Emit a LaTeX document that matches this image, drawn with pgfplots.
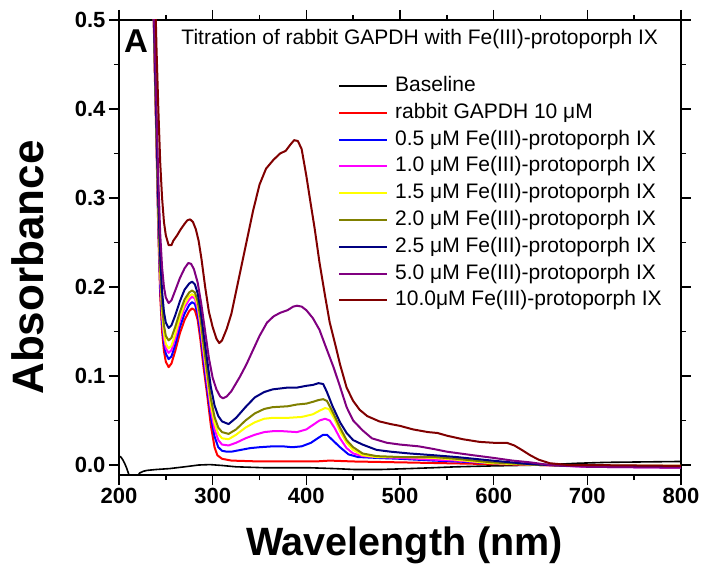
\documentclass[border=0pt]{standalone}
\usepackage{fontspec}
\setmainfont{Liberation Sans}
\usepackage{pgfplots}
\pgfplotsset{compat=1.18}
\definecolor{cBlue}{RGB}{0,0,255}
\definecolor{cRed}{RGB}{255,0,0}
\definecolor{cOlive}{RGB}{128,128,0}
\definecolor{cNavy}{RGB}{0,0,128}
\definecolor{cPurple}{RGB}{128,0,128}
\definecolor{cMaroon}{RGB}{128,0,0}
\definecolor{cYellow}{RGB}{255,255,0}
\definecolor{cMagenta}{RGB}{255,0,255}
\begin{document}
\begin{tikzpicture}
\begin{axis}[
  scale only axis, width=562bp, height=455bp,
  xmin=200, xmax=800, ymin=-0.0112, ymax=0.5,
  xtick={200,300,400,500,600,700,800},
  minor xtick={250,350,450,550,650,750},
  ytick={0,0.1,0.2,0.3,0.4,0.5},
  minor ytick={0.05,0.15,0.25,0.35,0.45},
  tick align=outside,
  major tick length=10bp, minor tick length=5bp,
  every tick/.style={line width=1.5bp, black},
  axis line style={line width=1.3bp},
  /pgf/number format/assume math mode=true,
  ticklabel style={font=\fontsize{22bp}{22bp}\selectfont\bfseries},
  yticklabel style={/pgf/number format/.cd, fixed, fixed zerofill, precision=1},
  xticklabel style={/pgf/number format/.cd, fixed, precision=0, 1000 sep={}},
  xlabel={Wavelength (nm)},
  ylabel={Absorbance},
  xlabel style={font=\fontsize{39.5bp}{39.5bp}\selectfont\bfseries, at={(axis description cs:0.508,-0.154)}, anchor=center},
  ylabel style={font=\fontsize{44bp}{44bp}\selectfont\bfseries, at={(axis description cs:-0.162,0.456)}, anchor=center},
  legend cell align=left,
  legend style={draw=none, fill=none, anchor=north west, at={(axis cs:430.6,0.439)},
    font=\fontsize{21bp}{21bp}\selectfont,
    nodes={inner sep=0pt, text height=15bp, text depth=4bp},
    row sep=7.8bp, column sep=7bp},
  legend image code/.code={\draw[#1] (0bp,0bp) -- (48bp,0bp);},
  every axis plot/.append style={line width=2bp, line join=round},
]
\addlegendimage{black, line width=2bp}
\addlegendentry{Baseline}
\addlegendimage{cRed, line width=2bp}
\addlegendentry{rabbit GAPDH 10 μM}
\addlegendimage{cBlue, line width=2bp}
\addlegendentry{0.5 μM Fe(III)-protoporph IX}
\addlegendimage{cMagenta, line width=2bp}
\addlegendentry{1.0 μM Fe(III)-protoporph IX}
\addlegendimage{cYellow, line width=2bp}
\addlegendentry{1.5 μM Fe(III)-protoporph IX}
\addlegendimage{cOlive, line width=2bp}
\addlegendentry{2.0 μM Fe(III)-protoporph IX}
\addlegendimage{cNavy, line width=2bp}
\addlegendentry{2.5 μM Fe(III)-protoporph IX}
\addlegendimage{cPurple, line width=2bp}
\addlegendentry{5.0 μM Fe(III)-protoporph IX}
\addlegendimage{cMaroon, line width=2bp}
\addlegendentry{10.0μM Fe(III)-protoporph IX}
% Baseline
\addplot[black, line width=1.6bp, forget plot] coordinates {
(200,0.010) (202,0.009) (204,0.006) (206,0.002) (208,-0.003) (210,-0.009) (212,-0.016)
(218,-0.016) (222,-0.009) (226,-0.007) (230,-0.006) (240,-0.005) (254,-0.004) (270,-0.002)
(285,0.000) (297,0.0005) (310,-0.0005) (325,-0.002) (354,-0.003) (402,-0.003) (430,-0.004)
(451,-0.005) (480,-0.005) (510,-0.004) (536,-0.003) (560,-0.002) (598,-0.001) (650,0.000)
(690,0.002) (720,0.003) (800,0.004)};
% rabbit GAPDH 10 uM
\addplot[cRed, forget plot] coordinates {
(236,0.56) (238,0.45) (240,0.36) (242,0.26) (244,0.19) (246,0.15) (248,0.128) (250,0.116)
(253,0.110) (256,0.114) (260,0.128) (265,0.148) (270,0.163) (275,0.173) (278,0.176) (281,0.174)
(284,0.163) (287,0.140) (290,0.112) (294,0.080) (298,0.045) (302,0.020) (305,0.011) (310,0.007)
(320,0.005) (350,0.004) (380,0.004) (410,0.004) (425,0.005) (450,0.004) (500,0.003) (550,0.002)
(600,0.001) (650,0.000) (700,-0.001) (750,-0.001) (800,-0.001)};
% 0.5
\addplot[cBlue, forget plot] coordinates {
(236,0.56) (238,0.46) (240,0.37) (242,0.27) (244,0.2) (246,0.16) (248,0.137) (250,0.125)
(253,0.119) (256,0.122) (260,0.135) (265,0.155) (270,0.17) (275,0.18) (278,0.183) (281,0.181)
(284,0.17) (287,0.148) (290,0.12) (294,0.087) (298,0.055) (302,0.032) (306,0.02) (310,0.016)
(315,0.015) (320,0.015) (330,0.017) (340,0.019) (350,0.020) (364,0.021) (375,0.021) (385,0.020)
(395,0.021) (405,0.025) (412,0.030) (418,0.034) (422,0.034) (428,0.028) (436,0.020) (445,0.012)
(455,0.009) (475,0.008) (500,0.007) (536,0.005) (560,0.004) (600,0.002) (640,0.001) (680,-0.001)
(700,-0.001) (800,-0.002)};
% 1.0
\addplot[cMagenta, forget plot] coordinates {
(236,0.56) (238,0.46) (240,0.37) (242,0.28) (244,0.21) (246,0.167) (248,0.143) (250,0.131)
(253,0.126) (256,0.129) (260,0.142) (265,0.162) (270,0.177) (275,0.186) (278,0.189) (281,0.187)
(284,0.176) (287,0.155) (290,0.127) (294,0.094) (298,0.062) (302,0.040) (306,0.028) (310,0.023)
(317,0.022) (325,0.025) (335,0.030) (345,0.034) (355,0.037) (364,0.038) (375,0.038) (390,0.037)
(400,0.040) (407,0.045) (414,0.050) (420,0.052) (425,0.050) (430,0.042) (436,0.030) (443,0.019)
(450,0.013) (460,0.010) (475,0.009) (500,0.008) (536,0.006) (560,0.005) (600,0.002) (650,0.000)
(700,-0.002) (800,-0.003)};
% 1.5
\addplot[cYellow, forget plot] coordinates {
(236,0.56) (238,0.46) (240,0.37) (242,0.28) (244,0.215) (246,0.172) (248,0.148) (250,0.136)
(253,0.131) (256,0.134) (260,0.147) (265,0.166) (270,0.181) (275,0.19) (278,0.192) (281,0.19)
(284,0.18) (287,0.16) (290,0.133) (294,0.100) (298,0.068) (302,0.047) (306,0.035) (310,0.030)
(317,0.029) (325,0.034) (335,0.042) (345,0.048) (355,0.052) (364,0.053) (380,0.053) (395,0.054)
(407,0.057) (414,0.061) (420,0.064) (424,0.063) (430,0.052) (436,0.038) (443,0.025) (450,0.017)
(460,0.011) (475,0.009) (500,0.009) (536,0.008) (560,0.006) (598,0.002) (650,0.000) (700,-0.001)
(800,-0.001)};
% 2.0
\addplot[cOlive, forget plot] coordinates {
(236,0.56) (238,0.46) (240,0.37) (242,0.285) (244,0.222) (246,0.18) (248,0.157) (250,0.145)
(253,0.140) (256,0.143) (260,0.155) (265,0.172) (270,0.186) (275,0.194) (278,0.196) (281,0.194)
(284,0.184) (287,0.165) (290,0.138) (294,0.106) (298,0.075) (302,0.054) (306,0.042) (310,0.037)
(317,0.035) (325,0.040) (335,0.050) (345,0.058) (355,0.063) (364,0.065) (380,0.066) (390,0.068)
(400,0.069) (407,0.071) (413,0.073) (418,0.074) (422,0.072) (428,0.060) (436,0.042) (443,0.028)
(450,0.020) (460,0.013) (475,0.010) (500,0.009) (536,0.009) (560,0.007) (598,0.003) (650,0.000)
(700,-0.001) (800,-0.001)};
% 2.5
\addplot[cNavy, forget plot] coordinates {
(236,0.56) (238,0.47) (240,0.38) (242,0.295) (244,0.235) (246,0.195) (248,0.172) (250,0.16)
(253,0.154) (256,0.157) (260,0.168) (265,0.184) (270,0.197) (275,0.204) (278,0.206) (281,0.203)
(284,0.193) (287,0.175) (290,0.15) (294,0.119) (298,0.088) (302,0.067) (306,0.055) (310,0.049)
(317,0.046) (325,0.053) (335,0.065) (345,0.076) (355,0.082) (364,0.085) (380,0.087) (390,0.087)
(400,0.089) (407,0.090) (413,0.092) (418,0.091) (422,0.082) (428,0.066) (436,0.048) (443,0.036)
(450,0.028) (460,0.023) (475,0.017) (490,0.015) (510,0.013) (536,0.011) (560,0.009) (598,0.005)
(639,0.001) (680,-0.001) (700,-0.001) (800,-0.002)};
% 5.0
\addplot[cPurple, forget plot] coordinates {
(236,0.56) (238,0.48) (240,0.40) (242,0.32) (244,0.26) (246,0.222) (248,0.2) (250,0.188)
(253,0.182) (256,0.185) (260,0.196) (265,0.21) (270,0.221) (274,0.227) (277,0.226) (280,0.22)
(284,0.205) (288,0.18) (292,0.15) (296,0.12) (300,0.098) (304,0.085) (308,0.077) (311,0.075)
(315,0.077) (320,0.083) (329,0.099) (336,0.113) (343,0.129) (350,0.145) (358,0.160) (365,0.167)
(372,0.171) (380,0.174) (386,0.178) (390,0.179) (395,0.178) (400,0.174) (407,0.165) (414,0.152)
(420,0.135) (429,0.110) (436,0.088) (443,0.065) (450,0.050) (460,0.039) (470,0.030) (486,0.025)
(500,0.023) (520,0.021) (536,0.018) (550,0.015) (578,0.011) (600,0.008) (620,0.005) (639,0.003)
(660,0.000) (700,-0.002) (800,-0.003)};
% 10.0
\addplot[cMaroon, forget plot] coordinates {
(238,0.56) (240,0.47) (242,0.40) (244,0.34) (246,0.30) (248,0.273) (250,0.258) (253,0.247)
(256,0.247) (258,0.252) (262,0.258) (266,0.265) (270,0.271) (273,0.275) (276,0.276) (279,0.273)
(282,0.265) (285,0.252) (288,0.232) (292,0.20) (296,0.172) (300,0.155) (304,0.142) (307,0.137)
(310,0.14) (315,0.153) (320,0.17) (328,0.21) (336,0.25) (343,0.285) (350,0.315) (357,0.333)
(365,0.343) (372,0.350) (378,0.353) (383,0.36) (387,0.365) (391,0.364) (395,0.355) (400,0.325)
(404,0.298) (409,0.265) (414,0.228) (420,0.19) (425,0.16) (431,0.135) (436,0.113) (443,0.087)
(450,0.072) (457,0.062) (465,0.055) (478,0.049) (490,0.046) (500,0.044) (514,0.040) (530,0.037)
(540,0.036) (550,0.033) (567,0.029) (585,0.026) (600,0.025) (614,0.025) (622,0.022) (630,0.017)
(639,0.011) (648,0.006) (660,0.002) (680,0.000) (700,0.000) (800,-0.001)};
\node[anchor=base west, inner sep=0pt, font=\fontsize{21bp}{21bp}\selectfont] at (axis cs:266.5,0.472) {Titration of rabbit GAPDH with Fe(III)-protoporph IX};
\node[anchor=base west, inner sep=0pt, font=\fontsize{33bp}{33bp}\selectfont\bfseries] at (axis cs:205.3,0.464) {A};
\end{axis}
\draw[line width=2.3bp, line cap=rect] (current axis.north west) -- (current axis.south west) -- (current axis.south east);
\path ([shift={(-119bp,-96bp)}]current axis.south west) rectangle ++(706bp,571bp);
\end{tikzpicture}
\end{document}
